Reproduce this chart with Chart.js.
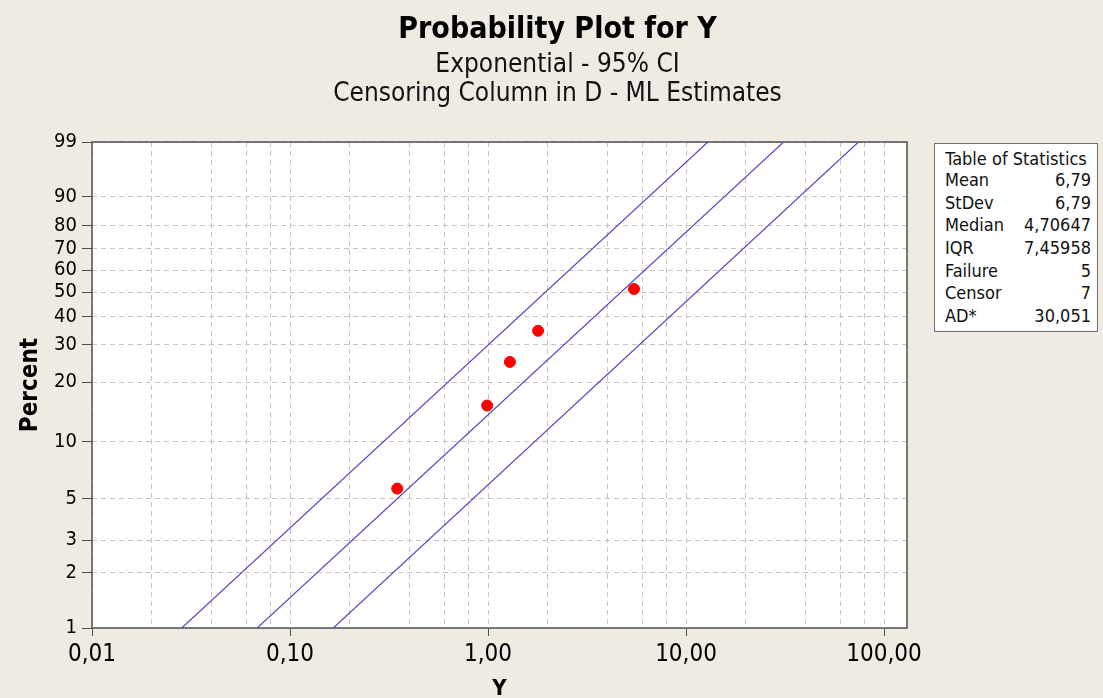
<!DOCTYPE html>
<html>
<head>
<meta charset="utf-8">
<title>Probability Plot for Y</title>
<script src="https://cdn.jsdelivr.net/npm/chart.js@4.4.1/dist/chart.umd.min.js"></script>
<style>
  html, body { margin: 0; padding: 0; background: #efebe3; }
  #wrap { position: relative; width: 1103px; height: 698px; }
  #stats {
    position: absolute; left: 934px; top: 143px; width: 164px;
    background: #fff; border: 1px solid #6e6e6e;
    font: 18px "DejaVu Sans Condensed", "DejaVu Sans", sans-serif; color: #111;
    border-collapse: collapse;
  }
  #stats td { padding: 0 6px 0 10px; height: 22.6px; line-height: 22px; white-space: nowrap; }
  #stats td.v { text-align: right; padding-left: 0; }
  #stats tr:last-child td { padding-bottom: 4px; }
  #stats th { font-weight: normal; padding: 3px 4px 0 4px; text-align: center; height: 22px; white-space: nowrap; }
</style>
</head>
<body>
<div id="wrap">
  <canvas id="plot" width="1103" height="698"></canvas>
  <table id="stats"></table>
</div>
<script>
// failure times and their plotted percents
const yValues = [0.348, 0.99, 1.29, 1.79, 5.46];
const percents = [5.66, 15.3, 25.0, 34.7, 51.4];

// fitted line and 95% CI band: Y where each line crosses 1 % and 99 %
const linePercents = [1, 99];
const fitEnds = [0.0683, 31.1];
const upperCiEnds = [0.0284, 12.9];
const lowerCiEnds = [0.1655, 74.3];

const xTickValues = [0.01, 0.1, 1, 10, 100];
const xTickLabels = ['0,01', '0,10', '1,00', '10,00', '100,00'];
const xGridValues = [0.01, 0.02, 0.04, 0.06, 0.08, 0.1, 0.2, 0.4, 0.6, 0.8,
                     1, 2, 4, 6, 8, 10, 20, 40, 60, 80, 100];
const yTickValues = [1, 2, 3, 5, 10, 20, 30, 40, 50, 60, 70, 80, 90, 99];

const statNames = ['Mean', 'StDev', 'Median', 'IQR', 'Failure', 'Censor', 'AD*'];
const statValues = ['6,79', '6,79', '4,70647', '7,45958', '5', '7', '30,051'];

const FONT = '"DejaVu Sans Condensed", "DejaVu Sans", sans-serif';

// exponential probability axis: log10(-ln(1 - p))
function probT(p) {
    return Math.log10(-Math.log(1 - p / 100));
}

class ExpProbScale extends Chart.Scale {
    static id = 'expprob';
    static defaults = {};
    determineDataLimits() {
        this.min = this.options.min;
        this.max = this.options.max;
    }
    buildTicks() {
        return yTickValues.map(v => ({ value: v }));
    }
    getLabelForValue(v) {
        return String(v);
    }
    configure() {
        super.configure();
        this._lo = probT(this.min);
        this._hi = probT(this.max);
    }
    getPixelForValue(v) {
        return this.getPixelForDecimal((probT(v) - this._lo) / (this._hi - this._lo));
    }
    getValueForPixel(px) {
        const t = this._lo + this.getDecimalForPixel(px) * (this._hi - this._lo);
        return 100 * (1 - Math.exp(-Math.pow(10, t)));
    }
}
Chart.register(ExpProbScale);

function lineData(ends) {
    return ends.map((y, i) => ({ x: y, y: linePercents[i] }));
}

const plotFrame = {
    id: 'plotFrame',
    beforeDraw(chart) {
        const { ctx, chartArea: a } = chart;
        ctx.save();
        ctx.fillStyle = '#efebe3';
        ctx.fillRect(0, 0, chart.width, chart.height);
        ctx.fillStyle = '#ffffff';
        ctx.fillRect(a.left, a.top, a.right - a.left, a.bottom - a.top);
        ctx.restore();
    },
    beforeDatasetsDraw(chart) {
        const { ctx, chartArea: a } = chart;
        ctx.save();
        ctx.strokeStyle = '#505050';
        ctx.lineWidth = 1.5;
        ctx.strokeRect(a.left, a.top, a.right - a.left, a.bottom - a.top);
        ctx.restore();
    }
};

const bandLine = {
    type: 'line', showLine: true, fill: false, pointRadius: 0,
    borderColor: '#4444c4', borderWidth: 1.1
};

new Chart(document.getElementById('plot'), {
    type: 'scatter',
    data: {
        datasets: [
            {
                label: 'Y',
                data: yValues.map((v, i) => ({ x: v, y: percents[i] })),
                backgroundColor: '#ff0000', borderColor: '#ff0000',
                pointRadius: 5.5, pointHoverRadius: 5.5, order: 0
            },
            Object.assign({ label: 'Fit', data: lineData(fitEnds), order: 1 }, bandLine),
            Object.assign({ label: 'Upper CI', data: lineData(upperCiEnds), order: 1 }, bandLine),
            Object.assign({ label: 'Lower CI', data: lineData(lowerCiEnds), order: 1 }, bandLine)
        ]
    },
    options: {
        responsive: false,
        animation: false,
        layout: { padding: { left: 12, right: 0, top: 0, bottom: 0 } },
        plugins: {
            legend: { display: false },
            tooltip: { enabled: false },
            title: {
                display: true,
                text: 'Probability Plot for Y',
                color: '#000',
                font: { family: FONT, size: 30, weight: 'bold', lineHeight: '36px' },
                padding: { top: 12, bottom: 0 }
            },
            subtitle: {
                display: true,
                text: ['Exponential - 95% CI', 'Censoring Column in D - ML Estimates'],
                color: '#111',
                font: { family: FONT, size: 26, lineHeight: '29px' },
                padding: { top: 3, bottom: 33 }
            }
        },
        scales: {
            x: {
                type: 'logarithmic',
                min: 0.01,
                max: Math.pow(10, 2.116),
                afterBuildTicks: s => { s.ticks = xGridValues.map(v => ({ value: v })); },
                afterFit: s => { s.height = 70; },
                border: { display: false, dash: [5, 4] },
                grid: {
                    color: '#c4c4c4',
                    tickLength: 8,
                    tickColor: c => (c.tick && xTickValues.includes(c.tick.value)) ? '#505050' : 'rgba(0,0,0,0)'
                },
                ticks: {
                    autoSkip: false, maxRotation: 0, padding: 4, color: '#000',
                    font: { family: FONT, size: 24 },
                    callback: v => {
                        const i = xTickValues.indexOf(v);
                        return i >= 0 ? xTickLabels[i] : '';
                    }
                },
                title: {
                    display: true, text: 'Y', color: '#000',
                    font: { family: FONT, size: 22, weight: 'bold', lineHeight: 0.8 },
                    padding: 0
                }
            },
            y: {
                type: 'expprob',
                min: 1,
                max: 99,
                afterFit: s => { s.width = 80; },
                border: { display: false, dash: [5, 4] },
                grid: {
                    color: '#c4c4c4',
                    tickLength: 10,
                    tickColor: '#505050'
                },
                ticks: {
                    autoSkip: false, padding: 5, color: '#000',
                    font: { family: FONT, size: 20 }
                },
                title: {
                    display: true, text: 'Percent', color: '#000',
                    font: { family: FONT, size: 24, weight: 'bold' },
                    padding: { top: 4, bottom: 0 }
                }
            },
            yRight: {
                type: 'linear',
                position: 'right',
                display: true,
                afterFit: s => { s.width = 196; },
                grid: { display: false },
                border: { display: false },
                ticks: { display: false }
            }
        }
    },
    plugins: [plotFrame]
});

// table of statistics
const table = document.getElementById('stats');
let html = '<tr><th colspan="2">Table of Statistics</th></tr>';
statNames.forEach((n, i) => {
    html += '<tr><td>' + n + '</td><td class="v">' + statValues[i] + '</td></tr>';
});
table.innerHTML = html;
</script>
</body>
</html>
